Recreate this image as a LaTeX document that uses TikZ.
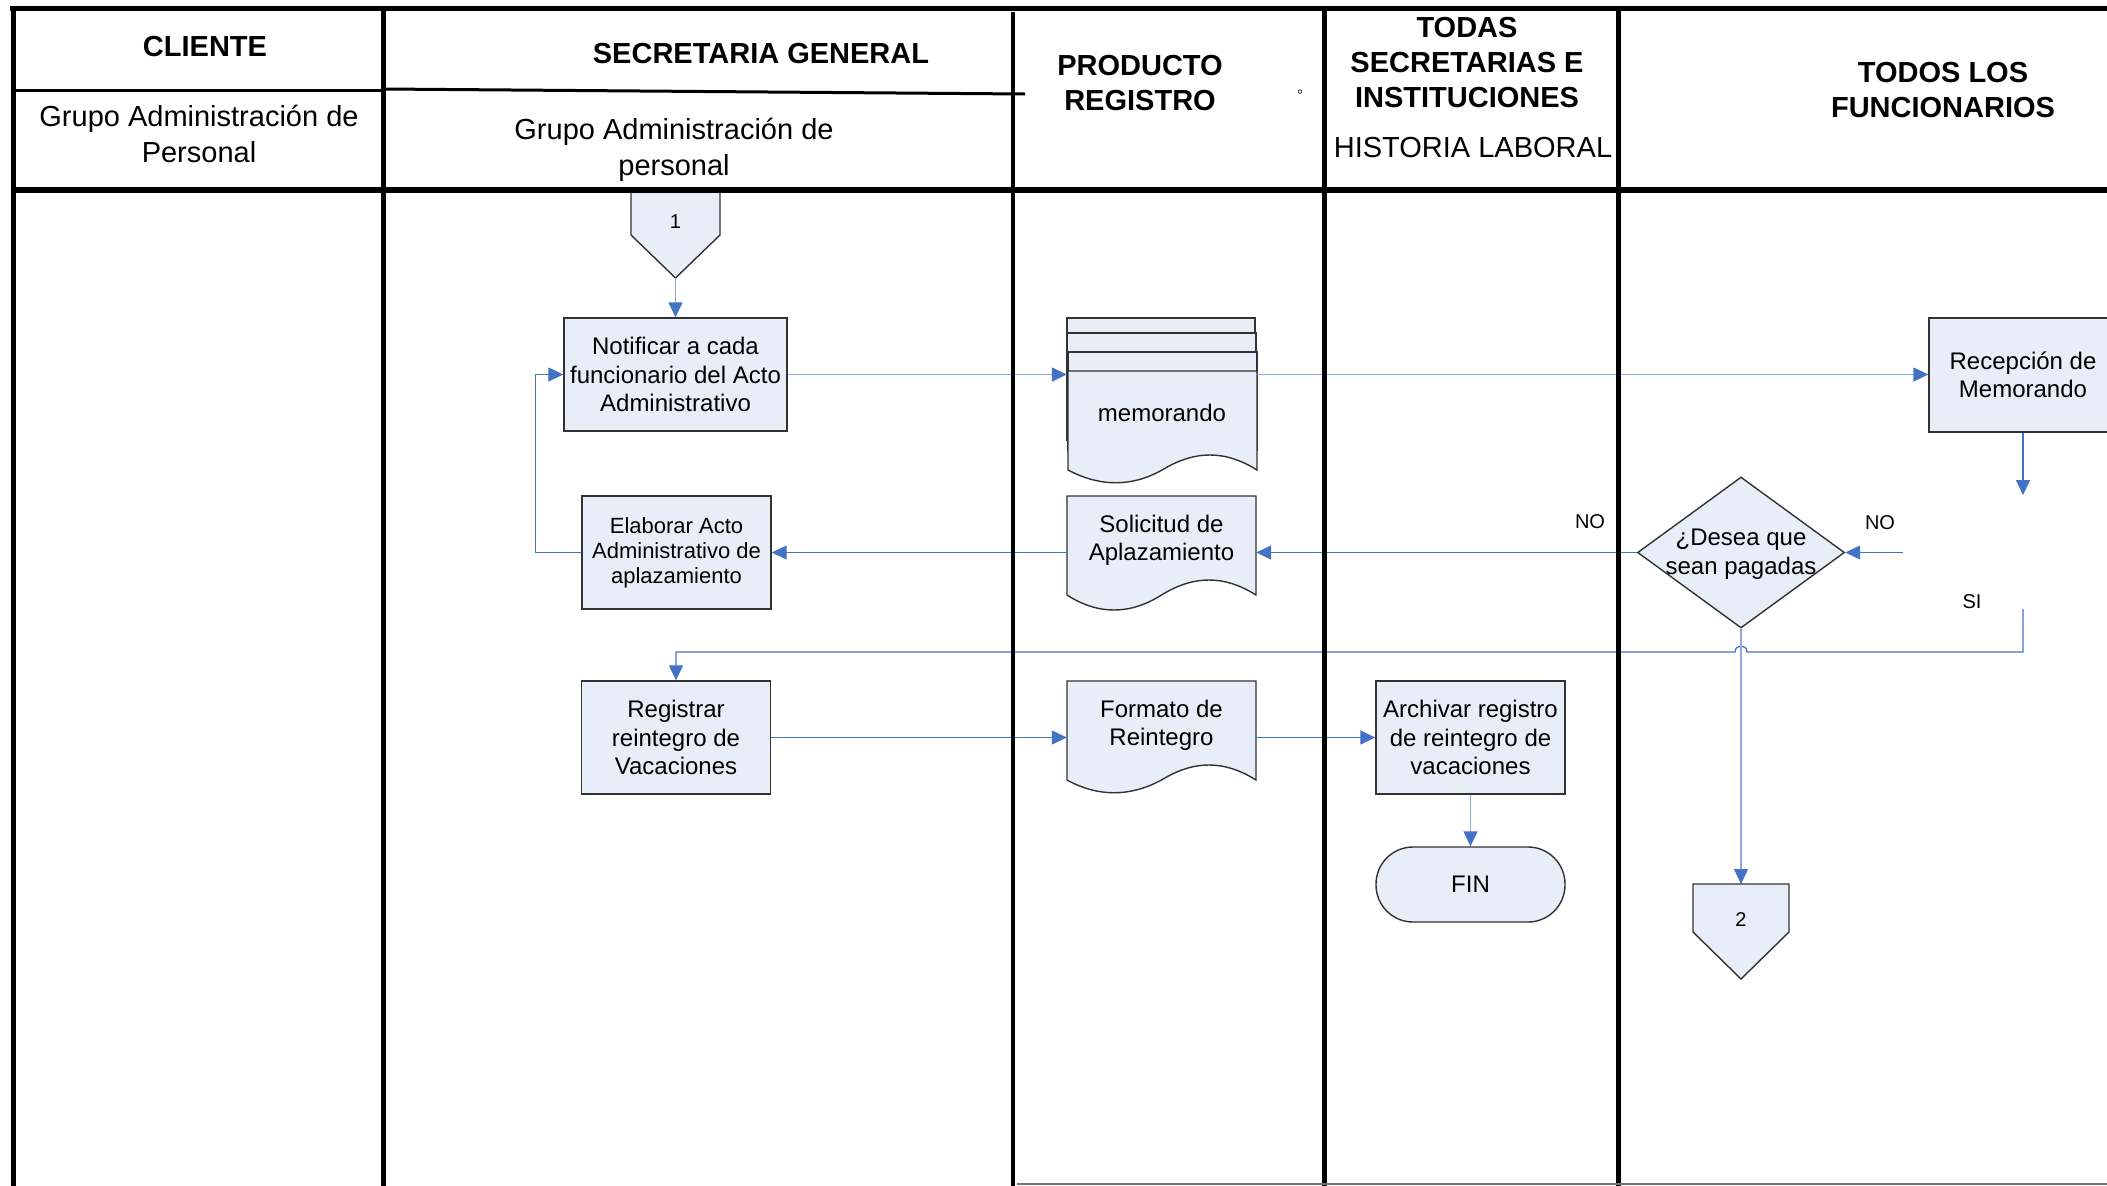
\documentclass[tikz,border=0pt]{standalone}
\usepackage{fontspec}
\setmainfont{Liberation Sans}
\usetikzlibrary{arrows.meta,shapes.geometric,calc}
\definecolor{fillb}{RGB}{232,238,247}
\definecolor{lnA}{RGB}{68,114,196}
\definecolor{lnL}{RGB}{143,170,220}
\definecolor{bord}{RGB}{50,50,50}
\begin{document}
\begin{tikzpicture}[x=1pt,y=-1pt,
  lane/.style={line width=5pt,black},
  hb/.style={font=\bfseries\fontsize{29}{35}\selectfont,align=center,inner sep=0pt},
  hr/.style={font=\fontsize{29}{35.5}\selectfont,align=center,inner sep=0pt},
  shp/.style={draw=bord,line width=1.4pt,fill=fillb},
  box/.style={shp,inner sep=0pt,align=center,font=\fontsize{24}{28.5}\selectfont},
  t24/.style={inner sep=0pt,align=center,font=\fontsize{24}{28.5}\selectfont},
  t20/.style={inner sep=0pt,align=center,font=\fontsize{20}{24}\selectfont},
  anch/.style={inner sep=0pt,draw=none,fill=none},
  tipA/.style={-{Triangle[length=15pt,width=14pt,color=lnA]}},
  cA/.style={draw=lnA,line width=1.3pt},
  cL/.style={draw=lnL,line width=1.5pt}
]
\useasboundingbox (0,0) rectangle (2107,1186);
\clip (0,0) rectangle (2107,1186);
\fill[white] (0,0) rectangle (2107,1186);

% ---------- shapes ----------
% off-page connector 1
\filldraw[shp] (631,192) -- (720,192) -- (720,235) -- (675.5,278) -- (631,235) -- cycle;
\node[t20] (c1) at (675.5,222) {1};
\coordinate (c1tip) at (675.5,278);

\node[box,minimum width=223pt,minimum height=113pt] (notif) at (675.5,374.5)
  {Notificar a cada\\funcionario del Acto\\Administrativo};

% memorando (multiple documents)
\filldraw[shp] (1067,318) rectangle (1255,432);
\filldraw[shp] (1067,333) rectangle (1256,440);
\filldraw[shp] (1068,352) rectangle (1257,450);
\filldraw[shp] (1068,371) -- (1257,371) -- (1257,470)
  .. controls (1225,450) and (1195,450) .. (1162,470)
  .. controls (1132,487) and (1100,487) .. (1068,470) -- cycle;
\node[anch,minimum width=190pt,minimum height=166pt] (memo) at (1162,401) {};
\node[t24] (memotxt) at (1162,413) {memorando};

\node[box,minimum width=188pt,minimum height=114pt] (recep) at (2023,375)
  {Recepción de\\Memorando};

\node[box,font=\fontsize{22}{25}\selectfont,minimum width=189pt,minimum height=113pt] (elab) at (676.5,552.5)
  {Elaborar Acto\\Administrativo de\\aplazamiento};

% Solicitud de Aplazamiento (document)
\filldraw[shp] (1067,496) -- (1256,496) -- (1256,595)
  .. controls (1224,575) and (1194,575) .. (1161.5,595)
  .. controls (1130,615) and (1098,615) .. (1067,595) -- cycle;
\node[anch,minimum width=189pt,minimum height=114pt] (sol) at (1161.5,553) {};
\node[t24] (soltxt) at (1161.5,540.5) {Solicitud de\\Aplazamiento};

% decision
\node[shp,diamond,inner sep=0pt,minimum width=207pt,minimum height=151pt] (dia) at (1741,552.5) {};
\node[t24] (diatxt) at (1741,554) {¿Desea que\\sean pagadas};

\coordinate (d2top) at (2023,495);
\coordinate (d2w) at (1903,552.5);
\coordinate (d2s) at (2023,609);
\coordinate (hopR) at (1747,652);
\coordinate (hopL) at (1735,652);

\node[box,minimum width=189pt,minimum height=113pt] (reg) at (676,737.5)
  {Registrar\\reintegro de\\Vacaciones};

% Formato de Reintegro (document)
\filldraw[shp] (1067,681) -- (1256,681) -- (1256,780)
  .. controls (1224,760) and (1194,760) .. (1161.5,780)
  .. controls (1130,797) and (1098,797) .. (1067,780) -- cycle;
\node[anch,minimum width=189pt,minimum height=113pt] (form) at (1161.5,737.5) {};
\node[t24] (formtxt) at (1161.5,725.5) {Formato de\\Reintegro};

\node[box,minimum width=189pt,minimum height=113pt] (arch) at (1470.5,737.5)
  {Archivar registro\\de reintegro de\\vacaciones};

\node[box,rounded corners=37pt,minimum width=189pt,minimum height=75pt] (fin) at (1470.5,884.5) {FIN};

% off-page connector 2
\filldraw[shp] (1693,884) -- (1789,884) -- (1789,932) -- (1741,979) -- (1693,932) -- cycle;
\node[t20] (c2) at (1741,920) {2};
\coordinate (c2top) at (1741,884);

% ---------- connectors ----------
\draw[cL,tipA] (c1tip) -- (notif.north);
\draw[cL,tipA] (notif.east) -- (notif.east -| memo.west);
\draw[cL,tipA] (notif.east -| memo.east) -- (notif.east -| recep.west);
\draw[cA,tipA] (recep.south) -- (d2top);
\draw[cA,tipA] (d2w) -- (dia.east);
\draw[cA,tipA] (dia.west) -- (dia.west -| sol.east);
\draw[cA,tipA] (dia.west -| sol.west) -- (elab.east);
\draw[cA,tipA] (elab.west) -- ++(-46,0) |- (notif.west);
\draw[cA,tipA] (d2s) |- (hopR) .. controls (1747,644) and (1735,644) .. (hopL)
  -- (reg.north |- hopL) -- (reg.north);
\draw[cL,tipA] (dia.south) -- (c2top);
\draw[cA,tipA] (reg.east) -- (reg.east -| form.west);
\draw[cA,tipA] (reg.east -| form.east) -- (arch.west);
\draw[cL,tipA] (arch.south) -- (fin.north);

% labels
\node[t20] (no1) at (1590,522) {NO};
\node[t20] (no2) at (1880,523) {NO};
\node[t20] (si) at (1972,602) {SI};
\node[inner sep=0pt,font=\fontsize{15}{16}\selectfont] (deg) at (1300,95) {°};

% ---------- lanes ----------
\draw[line width=5pt] (10,8) -- (2107,8);
\draw[lane] (13,6) -- (13,1186);
\draw[lane] (383,6) -- (383,1186);
\draw[line width=4pt] (1013,12) -- (1013,1186);
\draw[lane] (1324,6) -- (1324,1186);
\draw[lane] (1618,6) -- (1618,1186);
\draw[line width=6pt] (13,190) -- (2107,190);
\draw[line width=3pt] (13,90) -- (383,90);
\draw[line width=3pt] (383,89) -- (1025,94);
\draw[line width=2pt,black!55] (1017,1184) -- (2107,1184);

% ---------- headers ----------
\node[hb] (hcli) at (205,47) {CLIENTE};
\node[hb] (hsec) at (761,54) {SECRETARIA GENERAL};
\node[hr] (hcli2) at (199,134) {Grupo Administración de\\Personal};
\node[hr] (hsec2) at (674,150) {Grupo Administración de\\personal};
\node[hb] (hprod) at (1140,83.5) {PRODUCTO\\REGISTRO};
\node[hb] (htod) at (1467,63) {TODAS\\SECRETARIAS E\\INSTITUCIONES};
\node[hr] (hhist) at (1473,147.5) {HISTORIA LABORAL};
\node[hb] (hfun) at (1943,90.5) {TODOS LOS\\FUNCIONARIOS};
\end{tikzpicture}
\end{document}
